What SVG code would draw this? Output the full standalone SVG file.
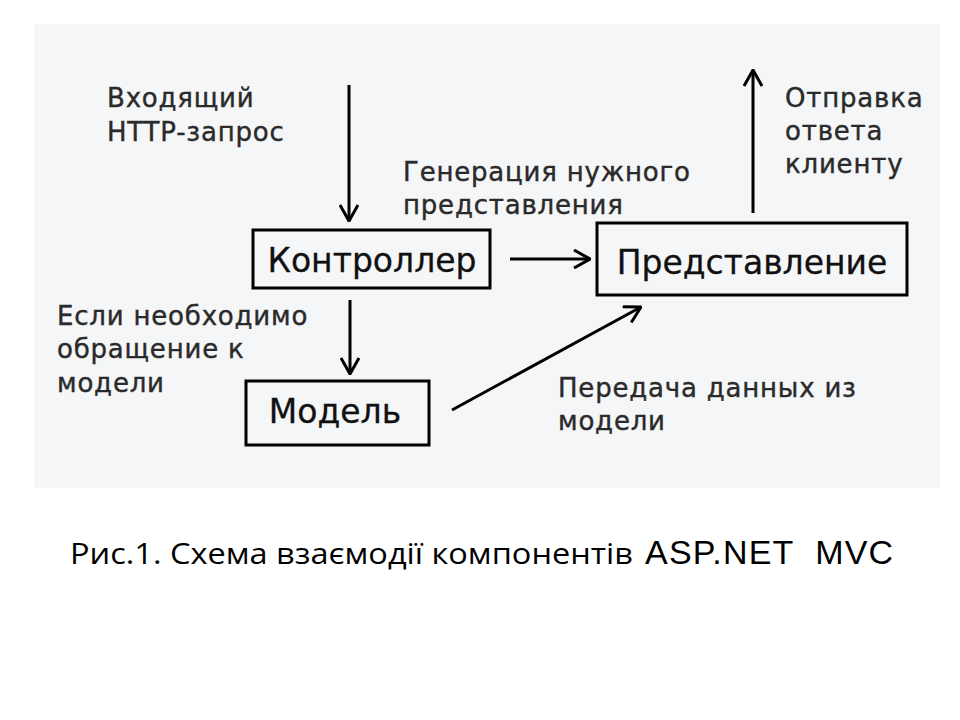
<svg xmlns="http://www.w3.org/2000/svg" width="960" height="720" viewBox="0 0 960 720">
<style>
.lbl{font-family:"DejaVu Sans",Verdana,sans-serif;font-size:26px;letter-spacing:0.8px;fill:#2a2a2a;stroke:#2a2a2a;stroke-width:0.4}
.box{fill:none;stroke:#000;stroke-width:3}
.btxt{font-family:"DejaVu Sans",Verdana,sans-serif;font-size:33px;fill:#111;stroke:#111;stroke-width:0.3;text-anchor:middle}
.con{stroke:#000;stroke-width:3;fill:none}
.cap{font-family:"Open Sans","Noto Sans",sans-serif;font-size:29px;fill:#000}
.cap2{font-family:"Liberation Sans",Arial,sans-serif;font-size:34px;letter-spacing:1.2px;fill:#000}
</style>
<defs>
<marker id="ah" viewBox="0 0 20 20" refX="19" refY="10" markerWidth="20" markerHeight="20" markerUnits="userSpaceOnUse" orient="auto">
<path d="M3,1 L19,10 L3,19" fill="none" stroke="#000" stroke-width="3"/>
</marker>
</defs>
<rect x="0" y="0" width="960" height="720" fill="#ffffff"/>
<rect x="34" y="24" width="906" height="464" fill="#f5f6f8"/>

<g id="controller">
<rect class="box" x="253" y="230" width="237" height="58"/>
<text class="btxt" x="372" y="272">Контроллер</text>
</g>
<g id="view">
<rect class="box" x="597" y="223" width="310" height="72"/>
<text class="btxt" x="752" y="274">Представление</text>
</g>
<g id="model">
<rect class="box" x="246" y="381" width="183" height="64"/>
<text class="btxt" x="335" y="423">Модель</text>
</g>

<g id="connectors">
<line class="con" x1="349" y1="85" x2="349" y2="221" marker-end="url(#ah)"/>
<line class="con" x1="510" y1="259" x2="590" y2="259" marker-end="url(#ah)"/>
<line class="con" x1="350" y1="300" x2="350" y2="374" marker-end="url(#ah)"/>
<line class="con" x1="452" y1="410" x2="641" y2="307" marker-end="url(#ah)"/>
<line class="con" x1="753" y1="213" x2="753" y2="70" marker-end="url(#ah)"/>
</g>

<g id="labels">
<text class="lbl" x="107" y="107">Входящий</text>
<text class="lbl" x="107" y="141">HTTP-запрос</text>
<text class="lbl" x="403" y="181">Генерация нужного</text>
<text class="lbl" x="403" y="214">представления</text>
<text class="lbl" x="785" y="107">Отправка</text>
<text class="lbl" x="785" y="140">ответа</text>
<text class="lbl" x="785" y="173">клиенту</text>
<text class="lbl" x="57" y="325">Если необходимо</text>
<text class="lbl" x="57" y="358">обращение к</text>
<text class="lbl" x="57" y="392">модели</text>
<text class="lbl" x="558" y="397">Передача данных из</text>
<text class="lbl" x="558" y="430">модели</text>
</g>

<g id="caption">
<text class="cap" x="70" y="564" textLength="563" lengthAdjust="spacingAndGlyphs">Рис.1. Схема взаємодії компонентів</text>
<text class="cap2" x="645" y="564" xml:space="preserve">ASP.NET  MVC</text>
</g>
</svg>
